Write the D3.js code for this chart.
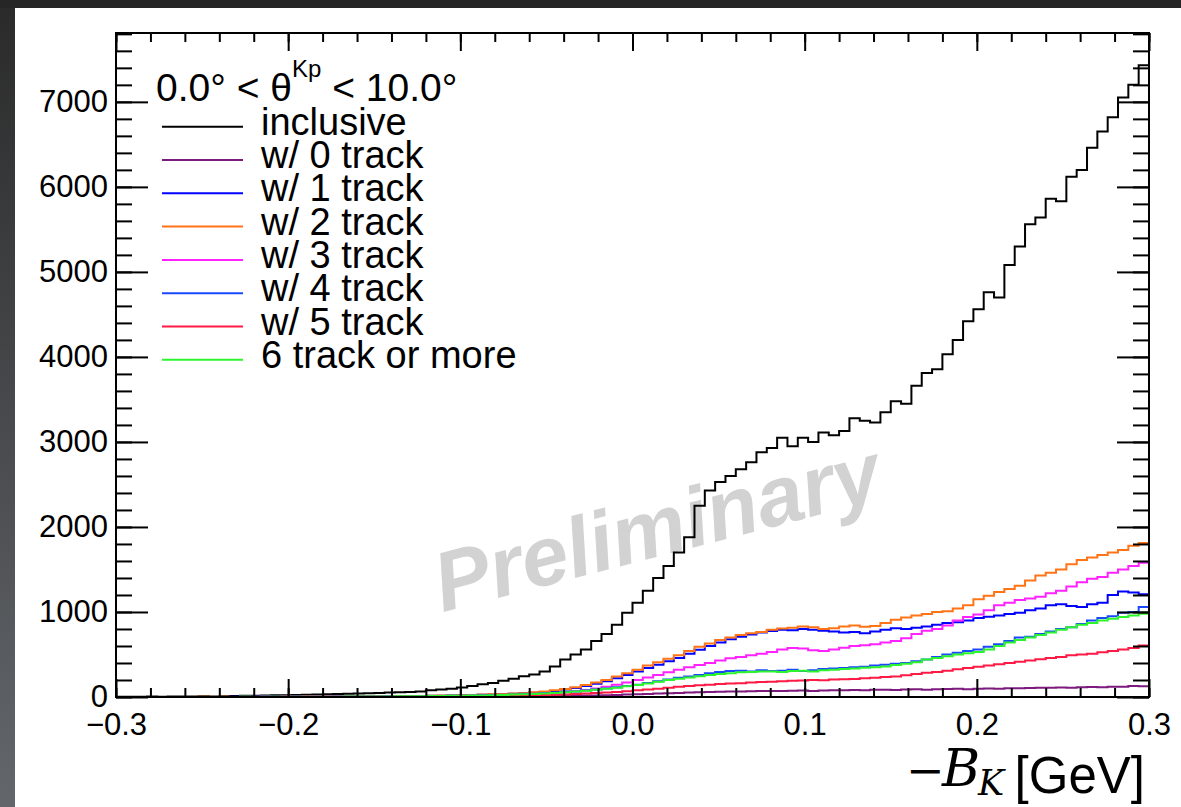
<!DOCTYPE html>
<html>
<head>
<meta charset="utf-8">
<script src="https://cdn.jsdelivr.net/npm/d3@7"></script>
<style>
  body { margin: 0; background: #fff; }
  svg { display: block; }
</style>
</head>
<body>
<div id="plot"></div>
<script>
// axis ranges, 100 bins of 0.006 GeV
var xRange = [-0.3, 0.3];
var yRange = [0, 7810];
var nBins = 100;

var xTicks = [-0.3, -0.2, -0.1, 0, 0.1, 0.2, 0.3];
var yTicks = [0, 1000, 2000, 3000, 4000, 5000, 6000, 7000];

var inclusive = [
  3, 4, 3, 5, 4, 6, 5, 6, 8, 7,
  10, 12, 14, 15, 18, 20, 22, 24, 27, 30,
  32, 35, 38, 42, 45, 48, 52, 56, 60, 66,
  78, 88, 98, 112, 130, 150, 165, 190, 215, 245,
  265, 300, 360, 440, 500, 560, 660, 740, 850, 990,
  1110, 1250, 1400, 1540, 1700, 1880, 2250, 2430, 2530, 2600,
  2680, 2760, 2880, 2930, 3050, 2950, 3050, 3000, 3110, 3080,
  3130, 3280, 3250, 3230, 3350, 3480, 3450, 3660, 3810, 3855,
  4030, 4200, 4420, 4560, 4760, 4700, 5080, 5300, 5560, 5640,
  5860, 5830, 6120, 6200, 6460, 6650, 6820, 7050, 7200, 7430
];
var track0 = [
  0, 0, 0, 0, 1, 0, 0, 0, 1, 0,
  0, 1, 0, 1, 1, 0, 1, 1, 1, 1,
  1, 2, 1, 2, 2, 2, 3, 2, 3, 3,
  3, 4, 4, 5, 5, 6, 6, 7, 8, 8,
  9, 10, 12, 13, 15, 17, 19, 22, 25, 28,
  32, 36, 40, 44, 48, 52, 55, 58, 62, 64,
  66, 68, 70, 72, 70, 74, 76, 72, 75, 78,
  80, 82, 78, 84, 86, 83, 88, 90, 86, 92,
  94, 96, 92, 98, 100, 97, 104, 102, 106, 108,
  110, 112, 108, 115, 118, 114, 120, 122, 130, 126
];
var track1 = [
  0, 1, 0, 1, 0, 1, 1, 0, 1, 1,
  1, 2, 1, 2, 3, 2, 3, 3, 4, 4,
  5, 5, 6, 7, 7, 8, 9, 10, 11, 12,
  14, 16, 18, 20, 23, 26, 30, 34, 38, 43,
  50, 60, 72, 88, 105, 128, 155, 185, 220, 260,
  300, 340, 380, 420, 460, 510, 555, 600, 640, 680,
  710, 735, 760, 775, 790, 785, 800, 790, 780, 770,
  760, 765, 750, 770, 790, 810, 800, 815, 830, 850,
  870, 880, 900, 930, 945, 960, 975, 990, 1020, 1040,
  1080, 1090, 1070, 1060, 1090, 1110, 1200, 1240, 1230, 1210
];
var track2 = [
  0, 0, 1, 0, 1, 1, 0, 1, 2, 1,
  2, 1, 2, 3, 2, 3, 4, 3, 5, 4,
  5, 6, 5, 7, 8, 9, 8, 10, 12, 13,
  15, 17, 19, 22, 25, 28, 32, 36, 40, 45,
  55, 65, 80, 95, 115, 140, 170, 200, 240, 280,
  320, 370, 410, 450, 490, 540, 590, 630, 670, 700,
  730, 750, 765, 790, 805, 815, 830, 820, 800, 810,
  830, 840, 825, 835, 870, 910, 935, 960, 975, 1000,
  1010, 1040, 1080, 1150, 1190, 1235, 1270, 1310, 1370, 1430,
  1460, 1500, 1560, 1610, 1640, 1670, 1700, 1730, 1780, 1810
];
var track3 = [
  0, 0, 0, 1, 0, 0, 1, 0, 1, 0,
  1, 1, 1, 1, 2, 1, 2, 2, 2, 3,
  3, 3, 4, 4, 5, 5, 6, 6, 7, 8,
  9, 10, 11, 13, 14, 16, 18, 21, 24, 28,
  32, 38, 45, 55, 68, 82, 100, 120, 145, 170,
  200, 230, 260, 290, 320, 350, 375, 400, 430, 455,
  470, 490, 510, 530, 560, 575, 570, 550, 540, 560,
  580, 600, 610, 620, 640, 660, 690, 740, 780, 800,
  840, 900, 940, 970, 1020, 1080, 1110, 1140, 1160, 1180,
  1220, 1250, 1300, 1350, 1390, 1410, 1460, 1500, 1540, 1580
];
var track4 = [
  0, 1, 0, 0, 1, 0, 1, 0, 1, 1,
  1, 1, 2, 2, 2, 3, 2, 3, 3, 4,
  4, 5, 5, 6, 6, 7, 8, 8, 9, 10,
  11, 12, 14, 16, 18, 20, 23, 26, 30, 34,
  38, 44, 50, 58, 66, 76, 88, 100, 115, 130,
  145, 165, 185, 205, 225, 240, 260, 280, 295, 305,
  310, 300, 315, 305, 310, 320, 305, 315, 330, 335,
  340, 350, 355, 370, 380, 390, 400, 420, 440, 470,
  500, 520, 540, 560, 590, 620, 660, 700, 710, 740,
  770, 800, 820, 860, 900, 930, 950, 990, 1000, 1060
];
var track5 = [
  0, 0, 0, 1, 0, 0, 0, 1, 0, 0,
  1, 0, 1, 1, 1, 1, 2, 1, 2, 2,
  2, 2, 3, 3, 3, 4, 4, 5, 5, 6,
  7, 7, 8, 9, 10, 11, 13, 14, 16, 18,
  20, 23, 26, 30, 35, 40, 46, 52, 60, 68,
  78, 88, 98, 110, 120, 130, 138, 145, 152, 158,
  162, 170, 175, 180, 185, 190, 195, 200, 198, 205,
  210, 212, 220, 225, 235, 240, 255, 270, 285, 295,
  310, 325, 340, 355, 370, 385, 400, 415, 430, 445,
  460, 470, 490, 500, 510, 525, 540, 560, 575, 605
];
var track6 = [
  0, 0, 1, 0, 0, 1, 0, 1, 1, 0,
  1, 1, 2, 1, 2, 2, 3, 2, 3, 3,
  4, 4, 5, 5, 6, 7, 7, 8, 9, 10,
  11, 12, 14, 15, 17, 19, 22, 25, 28, 32,
  36, 42, 48, 56, 64, 74, 85, 98, 110, 125,
  140, 160, 180, 200, 215, 230, 245, 260, 270, 280,
  290, 295, 300, 300, 295, 305, 310, 300, 315, 320,
  330, 335, 345, 350, 360, 375, 390, 410, 440, 460,
  480, 500, 515, 530, 560, 600, 640, 670, 700, 730,
  760, 790, 820, 850, 870, 900, 920, 940, 960, 980
];

var seriesNames = ["inclusive", "w/ 0 track", "w/ 1 track", "w/ 2 track",
  "w/ 3 track", "w/ 4 track", "w/ 5 track", "6 track or more"];
var seriesData = [inclusive, track0, track1, track2, track3, track4, track5, track6];
var seriesColors = ["#000000", "#7d1a7d", "#0000ff", "#ff7417",
  "#ff22ff", "#1a48ff", "#ff1a45", "#2cf52c"];

var W = 1181, H = 807;
var frame = { left: 116, right: 1149, top: 33, bottom: 697 };
var labelFont = "'Liberation Sans', Arial, Helvetica, sans-serif";

var svg = d3.select("#plot").append("svg")
  .attr("width", W)
  .attr("height", H);

// dark screenshot border
var defs = svg.append("defs");
var grad = defs.append("linearGradient").attr("id", "edgeGrad")
  .attr("x1", 0).attr("y1", 0).attr("x2", 0).attr("y2", 1);
grad.append("stop").attr("offset", "0%").attr("stop-color", "#2a2a2a");
grad.append("stop").attr("offset", "100%").attr("stop-color", "#63676c");
defs.append("clipPath").attr("id", "frameClip")
  .append("rect")
  .attr("x", frame.left).attr("y", frame.top)
  .attr("width", frame.right - frame.left)
  .attr("height", frame.bottom - frame.top);

svg.append("rect").attr("width", W).attr("height", H).attr("fill", "#fff");
svg.append("rect").attr("x", 0).attr("y", 0).attr("width", 15).attr("height", H)
  .attr("fill", "url(#edgeGrad)");
svg.append("rect").attr("x", 0).attr("y", 0).attr("width", W).attr("height", 8)
  .attr("fill", "#262626");

var x = d3.scaleLinear().domain(xRange).range([frame.left, frame.right]);
var y = d3.scaleLinear().domain(yRange).range([frame.bottom, frame.top]);

// watermark goes under the histograms
svg.append("text")
  .attr("transform", "translate(664,555) rotate(-14.5)")
  .attr("text-anchor", "middle")
  .attr("fill", "#d2d2d2")
  .style("font", "italic bold 84px " + labelFont)
  .text("Preliminary");

// histograms
var edges = d3.range(nBins + 1).map(function(i) {
  return xRange[0] + i * (xRange[1] - xRange[0]) / nBins;
});
var stepLine = d3.line()
  .x(function(d) { return x(d[0]); })
  .y(function(d) { return y(d[1]); })
  .curve(d3.curveStepAfter);

var histG = svg.append("g").attr("clip-path", "url(#frameClip)");
seriesData.forEach(function(vals, k) {
  var pts = vals.map(function(v, i) { return [edges[i], v]; });
  pts.push([edges[nBins], vals[nBins - 1]]);
  histG.append("path")
    .attr("d", stepLine(pts))
    .attr("fill", "none")
    .attr("stroke", seriesColors[k])
    .attr("stroke-width", 2)
    .attr("stroke-linejoin", "miter");
});

// axes: major + minor ticks on all four sides
function styleAxis(g) {
  g.select("path.domain").remove();
  g.selectAll(".tick line").attr("stroke", "#000").attr("stroke-width", 2);
  g.selectAll("text")
    .attr("fill", "#000")
    .style("font-family", labelFont)
    .style("font-size", "31px");
}

var xMinor = d3.range(-30, 31, 2).map(function(d) { return d / 100; });
var yMinor = d3.range(0, 7801, 200);

svg.append("g").attr("transform", "translate(0," + frame.bottom + ")")
  .call(d3.axisBottom(x).tickValues(xMinor).tickSize(-9).tickFormat(""))
  .call(styleAxis);
svg.append("g").attr("transform", "translate(0," + frame.bottom + ")")
  .call(d3.axisBottom(x).tickValues(xTicks).tickSize(-18).tickPadding(16)
    .tickFormat(d3.format(".1f")))
  .call(styleAxis);
svg.append("g").attr("transform", "translate(0," + frame.top + ")")
  .call(d3.axisTop(x).tickValues(xMinor).tickSize(-9).tickFormat(""))
  .call(styleAxis);
svg.append("g").attr("transform", "translate(0," + frame.top + ")")
  .call(d3.axisTop(x).tickValues(xTicks).tickSize(-18).tickFormat(""))
  .call(styleAxis);

svg.append("g").attr("transform", "translate(" + frame.left + ",0)")
  .call(d3.axisLeft(y).tickValues(yMinor).tickSize(-16).tickFormat(""))
  .call(styleAxis);
svg.append("g").attr("transform", "translate(" + frame.left + ",0)")
  .call(d3.axisLeft(y).tickValues(yTicks).tickSize(-32).tickPadding(8)
    .tickFormat(d3.format("d")))
  .call(styleAxis);
svg.append("g").attr("transform", "translate(" + frame.right + ",0)")
  .call(d3.axisRight(y).tickValues(yMinor).tickSize(-16).tickFormat(""))
  .call(styleAxis);
svg.append("g").attr("transform", "translate(" + frame.right + ",0)")
  .call(d3.axisRight(y).tickValues(yTicks).tickSize(-32).tickFormat(""))
  .call(styleAxis);

svg.append("rect")
  .attr("x", frame.left).attr("y", frame.top)
  .attr("width", frame.right - frame.left)
  .attr("height", frame.bottom - frame.top)
  .attr("fill", "none").attr("stroke", "#000").attr("stroke-width", 2);

// legend
var legend = svg.append("g").style("font-family", labelFont);
var title = legend.append("text").attr("x", 156).attr("y", 101)
  .style("font-size", "39px").attr("fill", "#000");
title.append("tspan").text("0.0\u00b0 < \u03b8");
title.append("tspan").attr("dy", -24).style("font-size", "24px").text("Kp");
title.append("tspan").attr("dy", 24).text(" < 10.0\u00b0");

seriesNames.forEach(function(name, i) {
  var ly = 126.7 + 33.3 * i;
  legend.append("line")
    .attr("x1", 162).attr("x2", 243)
    .attr("y1", ly).attr("y2", ly)
    .attr("stroke", seriesColors[i]).attr("stroke-width", 2);
  legend.append("text")
    .attr("x", 261).attr("y", ly + 8)
    .style("font-size", "38px").attr("fill", "#000")
    .text(name);
});

// x axis title  -B_K [GeV]
var xt = svg.append("g").attr("fill", "#000");
xt.append("text").attr("x", 906).attr("y", 786)
  .style("font", "46px 'DejaVu Serif', serif").text("\u2212");
xt.append("text").attr("x", 942).attr("y", 786)
  .style("font", "italic 52px 'DejaVu Serif', serif").text("B");
xt.append("text").attr("x", 978).attr("y", 795)
  .style("font", "italic 35px 'DejaVu Serif', serif").text("K");
xt.append("text").attr("x", 1145).attr("y", 793)
  .attr("text-anchor", "end")
  .style("font", "51px " + labelFont).text("[GeV]");
</script>
</body>
</html>
